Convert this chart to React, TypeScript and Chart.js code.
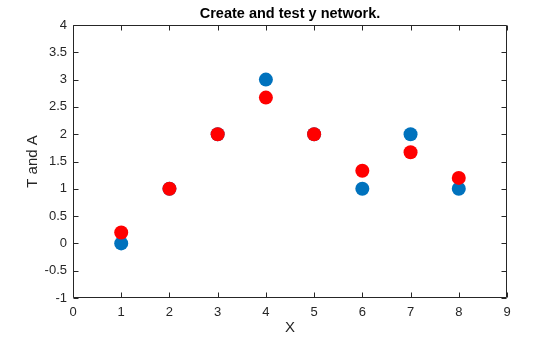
import React, { useEffect, useRef } from "react";
import { Chart, registerables } from "chart.js";

Chart.register(...registerables);

const xValues = [1, 2, 3, 4, 5, 6, 7, 8];
const targetT = [0, 1, 2, 3, 2, 1, 2, 1];
const outputA = [0.2, 1, 2, 2.67, 2, 1.33, 1.67, 1.2];
const xTicks = [0, 1, 2, 3, 4, 5, 6, 7, 8, 9];
const yTicks = [-1, -0.5, 0, 0.5, 1, 1.5, 2, 2.5, 3, 3.5, 4];
const titleText = "Create and test y network.";
const xLabel = "X";
const yLabel = "T and A";

const AXIS = "#262626";
const FONT = "Arial, 'Liberation Sans', sans-serif";

const framePlugin = {
  id: "frame",
  afterDraw(chart: any) {
    const { ctx, chartArea: a, scales } = chart;
    ctx.save();
    ctx.strokeStyle = AXIS;
    ctx.lineWidth = 1;
    const L = Math.round(a.left) + 0.5;
    const R = Math.round(a.right) - 0.5;
    const T = Math.round(a.top) + 0.5;
    const B = Math.round(a.bottom) - 0.5;
    ctx.beginPath();
    ctx.rect(L, T, R - L, B - T);
    const tl = 5;
    xTicks.forEach((v) => {
      const x = Math.round(scales.x.getPixelForValue(v)) + 0.5;
      ctx.moveTo(x, B);
      ctx.lineTo(x, B - tl);
      ctx.moveTo(x, T);
      ctx.lineTo(x, T + tl);
    });
    yTicks.forEach((v) => {
      const y = Math.round(scales.y.getPixelForValue(v)) + 0.5;
      ctx.moveTo(L, y);
      ctx.lineTo(L + tl, y);
      ctx.moveTo(R, y);
      ctx.lineTo(R - tl, y);
    });
    ctx.stroke();
    ctx.fillStyle = "#000";
    ctx.font = `bold 14.5px ${FONT}`;
    ctx.textAlign = "center";
    ctx.textBaseline = "middle";
    ctx.fillText(titleText, (a.left + a.right) / 2, 14);
    ctx.fillStyle = AXIS;
    ctx.font = `15px ${FONT}`;
    ctx.fillText(xLabel, (a.left + a.right) / 2, 328);
    ctx.translate(33, (a.top + a.bottom) / 2);
    ctx.rotate(-Math.PI / 2);
    ctx.fillText(yLabel, 0, 0);
    ctx.restore();
  },
};

export default function App() {
  const ref = useRef<HTMLCanvasElement>(null);
  useEffect(() => {
    document.body.style.margin = "0";
    const chart = new Chart(ref.current!, {
      type: "scatter",
      data: {
        datasets: [
          {
            label: "T",
            data: xValues.map((x, i) => ({ x, y: targetT[i] })),
            backgroundColor: "#0072BD",
            borderWidth: 0,
            pointRadius: 7,
            order: 2,
          },
          {
            label: "A",
            data: xValues.map((x, i) => ({ x, y: outputA[i] })),
            backgroundColor: "#FF0000",
            borderWidth: 0,
            pointRadius: 7,
            order: 1,
          },
        ],
      },
      options: {
        responsive: false,
        animation: false,
        layout: { padding: { top: 25, right: 53, left: 0, bottom: 0 } },
        plugins: { legend: { display: false }, tooltip: { enabled: false }, title: { display: false } },
        scales: {
          x: {
            type: "linear",
            min: 0,
            max: 9,
            afterBuildTicks: (s: any) => {
              s.ticks = xTicks.map((v) => ({ value: v }));
            },
            afterFit: (s: any) => {
              s.height = 39;
            },
            grid: { display: false, drawTicks: false },
            border: { display: false },
            ticks: {
              color: AXIS,
              font: { size: 13, family: FONT },
              padding: 7,
              maxRotation: 0,
              callback: (v: any) => String(v),
            },
          },
          y: {
            type: "linear",
            min: -1,
            max: 4,
            afterBuildTicks: (s: any) => {
              s.ticks = yTicks.map((v) => ({ value: v }));
            },
            afterFit: (s: any) => {
              s.width = 73;
            },
            grid: { display: false, drawTicks: false },
            border: { display: false },
            ticks: {
              color: AXIS,
              font: { size: 13, family: FONT },
              padding: 6,
              callback: (v: any) => String(v),
            },
          },
        },
      },
      plugins: [framePlugin],
    });
    return () => chart.destroy();
  }, []);
  return (
    <div style={{ position: "absolute", left: 0, top: 0, width: 560, height: 337, background: "#fff" }}>
      <canvas ref={ref} width={560} height={337} />
    </div>
  );
}
